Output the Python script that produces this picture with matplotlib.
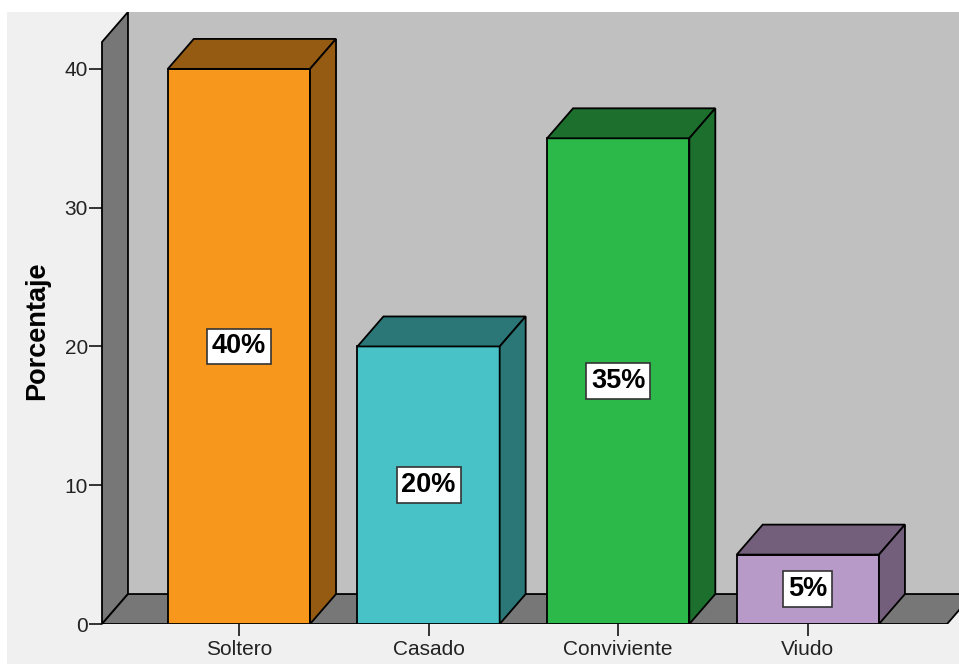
import matplotlib
matplotlib.use("agg")

import matplotlib.pyplot as plt
from matplotlib.patches import Polygon, Rectangle

# Marital status breakdown (percent)
categories = ["Soltero", "Casado", "Conviviente", "Viudo"]
values = [40, 20, 35, 5]
labels = ["40%", "20%", "35%", "5%"]
yticks = [0, 10, 20, 30, 40]

front_colors = ["#f7981d", "#48c2c6", "#2db84a", "#b89ac9"]
shade_colors = ["#965b12", "#2b7677", "#1c6f2d", "#735f7b"]

# 3D look: depth offset of the pseudo-perspective, in data units
depth_x = 0.137
depth_y = 2.16
bar_width = 0.75
x_left, x_right = -0.722, 3.797
floor_end = 3.734
wall_top = 41.94

fig = plt.figure(figsize=(9.59, 6.64), dpi=100, facecolor="#f0f0f0")
fig.patches.append(Rectangle((0, 1 - 12 / 664), 1, 12 / 664, transform=fig.transFigure,
                             fc="white", ec="none", zorder=0))
fig.patches.append(Rectangle((0, 0), 7 / 959, 1, transform=fig.transFigure,
                             fc="white", ec="none", zorder=0))

ax = fig.add_axes([102 / 959, 40 / 664, 857 / 959, 612 / 664])
ax.set_facecolor("none")
ax.set_xlim(x_left, x_right)
ax.set_ylim(0, wall_top + depth_y)
for s in ax.spines.values():
    s.set_visible(False)

# back wall, side wall and floor
ax.add_patch(Rectangle((x_left + depth_x, depth_y), x_right - x_left, wall_top + 1,
                       fc="#c0c0c0", ec="none", zorder=0))
ax.add_patch(Polygon([(x_left, 0), (x_left + depth_x, depth_y),
                      (x_left + depth_x, wall_top + depth_y), (x_left, wall_top)],
                     closed=True, fc="#777777", ec="black", lw=1.3, zorder=1,
                     clip_on=False))
ax.add_patch(Polygon([(x_left, 0), (floor_end, 0), (floor_end + depth_x, depth_y),
                      (x_left + depth_x, depth_y)],
                     closed=True, fc="#777777", ec="black", lw=1.3, zorder=1))

# bars: front faces via bar(), then top and side faces
xs = list(range(len(categories)))
bars = ax.bar(xs, values, width=bar_width, color=front_colors, edgecolor="black",
              linewidth=1.3, zorder=3)
for bar, shade in zip(bars, shade_colors):
    x0 = bar.get_x()
    x1 = x0 + bar.get_width()
    h = bar.get_height()
    top = [(x0, h), (x0 + depth_x, h + depth_y), (x1 + depth_x, h + depth_y), (x1, h)]
    side = [(x1, 0), (x1 + depth_x, depth_y), (x1 + depth_x, h + depth_y), (x1, h)]
    for pts in (top, side):
        ax.add_patch(Polygon(pts, closed=True, fc=shade, ec="black", lw=1.3, zorder=3))

# value labels in the middle of each bar
for x, v, lab in zip(xs, values, labels):
    ax.text(x, v / 2, lab, ha="center", va="center", fontsize=19.5, fontweight="bold",
            family=["Liberation Sans", "DejaVu Sans"],
            color="black", zorder=5,
            bbox=dict(boxstyle="square,pad=0.18", fc="white", ec="#333333", lw=1.2))

ax.set_yticks(yticks)
ax.set_xticks(xs)
ax.set_xticklabels(categories)
ax.tick_params(axis="y", length=9.5, width=1.1, pad=0.5, labelsize=15,
               labelcolor="#222222")
ax.tick_params(axis="x", length=8.5, width=1.1, pad=3, labelsize=15,
               labelcolor="#222222")
for lbl in ax.get_xticklabels() + ax.get_yticklabels():
    lbl.set_family(["Liberation Sans", "DejaVu Sans"])

ax.set_ylabel("Porcentaje", fontsize=19.5, fontweight="bold",
              family=["Liberation Sans", "DejaVu Sans"])
ax.yaxis.set_label_coords(-52 / 857, (624 - 331) / 612)

fig.savefig("out.png", dpi=100, facecolor=fig.get_facecolor())
